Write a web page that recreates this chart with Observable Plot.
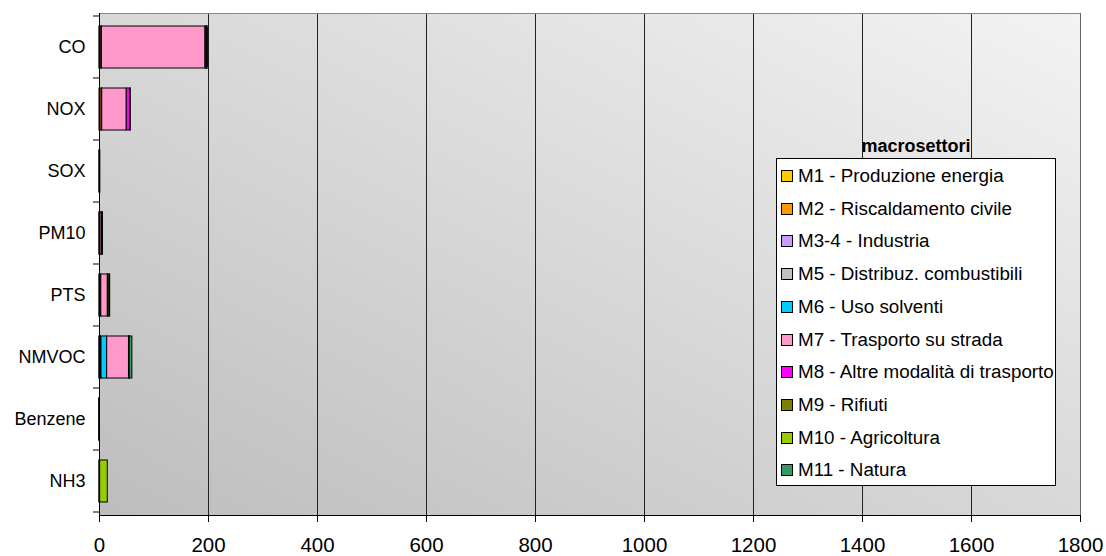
<!DOCTYPE html>
<html><head><meta charset="utf-8">
<script src="https://cdn.jsdelivr.net/npm/d3@7"></script>
<script src="https://cdn.jsdelivr.net/npm/@observablehq/plot@0.6"></script>
<style>
body{margin:0;background:#fff;font-family:"Liberation Sans",Arial,sans-serif;}
#wrap{position:relative;width:1106px;height:556px;overflow:hidden;}
#wrap svg{position:absolute;left:0;top:0;overflow:visible;}
.lg{position:absolute;left:776px;top:158px;width:280px;height:328px;border:1px solid #000;background:#fff;box-sizing:border-box;}
.lgt{position:absolute;left:776px;width:280px;top:136px;text-align:center;font-weight:bold;font-size:18px;}
.row{position:absolute;left:4px;height:22px;display:flex;align-items:center;font-size:18.8px;white-space:nowrap;}
.sw{width:10px;height:10px;border:1px solid #000;margin-right:5px;flex:none;}
</style></head><body><div id="wrap"></div>
<script>
const categories = ["CO", "NOX", "SOX", "PM10", "PTS", "NMVOC", "Benzene", "NH3"];
const sectors = ["M1 - Produzione energia", "M2 - Riscaldamento civile", "M3-4 - Industria",
  "M5 - Distribuz. combustibili", "M6 - Uso solventi", "M7 - Trasporto su strada",
  "M8 - Altre modalità di trasporto", "M9 - Rifiuti", "M10 - Agricoltura", "M11 - Natura"];
const sectorColors = ["#FFCC00", "#FF9900", "#CC99FF", "#C0C0C0", "#00CCFF", "#FF99CC",
  "#FF00FF", "#808000", "#99CC00", "#339966"];
// values per sector, in the order of categories
const M1  = [0.5, 1.0, 0.3, 0.1, 0.3, 0.1, 0.0, 0.0];
const M2  = [3.0, 3.0, 0.3, 1.5, 2.0, 1.5, 0.05, 0.0];
const M3_4 = [1.0, 1.0, 0.3, 0.3, 1.0, 1.0, 0.0, 0.1];
const M5  = [0.0, 0.0, 0.0, 0.0, 0.0, 1.0, 0.02, 0.0];
const M6  = [0.0, 0.0, 0.0, 0.0, 0.0, 10.5, 0.0, 0.0];
const M7  = [190, 45, 0.2, 3.0, 12, 40, 0.3, 1.0];
const M8  = [2.0, 6.5, 0.3, 0.5, 1.0, 1.0, 0.01, 0.0];
const M9  = [0.5, 0.3, 0.0, 0.1, 0.3, 0.1, 0.0, 0.1];
const M10 = [0.3, 0.3, 0.0, 0.3, 2.0, 0.1, 0.0, 14];
const M11 = [2.0, 0.0, 0.0, 0.5, 1.0, 5.0, 0.0, 0.0];
const xTicks = [0, 200, 400, 600, 800, 1000, 1200, 1400, 1600, 1800];
const legendTitle = "macrosettori";

const series = [M1, M2, M3_4, M5, M6, M7, M8, M9, M10, M11];
const data = [];
series.forEach((vals, i) => vals.forEach((v, j) => data.push({cat: categories[j], sector: sectors[i], value: v})));

const chart = Plot.plot({
  width: 1106, height: 556,
  marginLeft: 99, marginRight: 26, marginTop: 13, marginBottom: 41,
  style: {fontFamily: "'Liberation Sans', Arial, sans-serif", fontSize: "17px", background: "transparent", color: "#000", overflow: "visible"},
  x: {domain: [0, 1800]},
  y: {domain: categories, paddingInner: 0.32, paddingOuter: 0.16},
  color: {domain: sectors, range: sectorColors},
  marks: [
    Plot.frame({fill: "url(#bg)", stroke: null}),
    Plot.ruleX(xTicks.slice(1, -1), {stroke: "#222", strokeWidth: 1}),
    Plot.frame({anchor: "top", stroke: "#888"}),
    Plot.frame({anchor: "right", stroke: "#666"}),
    Plot.barX(data, Plot.stackX({x: "value", y: "cat", fill: "sector", order: sectors, stroke: "#000", strokeWidth: 1})),
    Plot.axisX({ticks: xTicks, tickFormat: d => String(d), tickSize: 7, tickPadding: 15, fontSize: 20.5, label: null}),
    Plot.axisY({tickSize: 0, tickPadding: 14, fontSize: 18, label: null}),
    Plot.frame({anchor: "left", stroke: "#000"}),
    Plot.frame({anchor: "bottom", stroke: "#000"})
  ]
});

const wrap = document.getElementById("wrap");
wrap.appendChild(chart);
const svg = d3.select(chart);
svg.insert("defs", ":first-child").html(
  '<linearGradient id="bg" x1="0" y1="1" x2="1" y2="0">' +
  '<stop offset="0" stop-color="#bdbdbd"/><stop offset="1" stop-color="#f3f3f3"/></linearGradient>');

// band-edge ticks on the y axis
const ys = chart.scale("y");
const gap = ys.step - ys.bandwidth;
const edges = categories.map(c => ys.apply(c) - gap / 2);
edges.push(ys.apply(categories[categories.length - 1]) + ys.bandwidth + gap / 2);
const xs = chart.scale("x");
const x0 = xs.apply(0);
svg.append("g").selectAll("line").data(edges).join("line")
  .attr("x1", x0 - 6).attr("x2", x0).attr("y1", d => d).attr("y2", d => d)
  .attr("stroke", "#000");

// legend
d3.select(wrap).append("div").attr("class", "lgt").text(legendTitle);
const lg = d3.select(wrap).append("div").attr("class", "lg");
sectors.forEach((s, i) => {
  const r = lg.append("div").attr("class", "row").style("top", (6 + i * 32.7) + "px");
  r.append("div").attr("class", "sw").style("background", sectorColors[i]);
  r.append("span").text(s);
});
</script></body></html>
